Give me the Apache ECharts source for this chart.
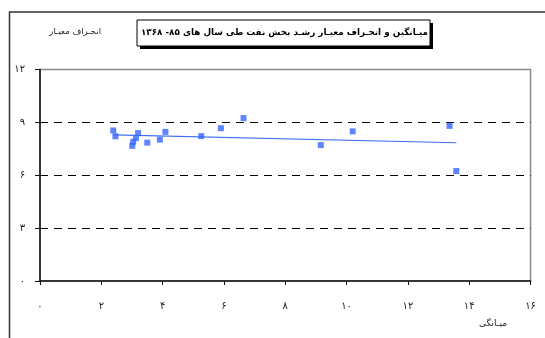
<!DOCTYPE html>
<html>
<head>
<meta charset="utf-8">
<script src="https://cdn.jsdelivr.net/npm/echarts@6/dist/echarts.min.js"></script>
<style>
  html, body { margin: 0; padding: 0; background: #fff; }
  #chart { width: 545px; height: 338px; }
</style>
</head>
<body>
<div id="chart"></div>
<script>
// Mean growth (x) against standard deviation (y) of oil-sector growth
const meanValues = [2.39, 2.46, 3.20, 3.13, 3.04, 3.01, 3.50, 3.91, 4.09, 5.26, 5.90, 6.64, 9.16, 10.20, 13.36, 13.58];
const stdValues  = [8.54, 8.21, 8.39, 8.11, 7.90, 7.67, 7.85, 8.02, 8.46, 8.22, 8.67, 9.24, 7.71, 8.49, 8.80, 6.24];

const xTickLabels = ['۰', '۲', '۴', '۶', '۸', '۱۰', '۱۲', '۱۴', '۱۶'];
const yTickLabels = ['۰', '۳', '۶', '۹', '۱۲'];

const chartTitle = 'میـانگین و انحـراف معیـار رشـد بخش نفت طی سال های ۸۵- ۱۳۶۸';
const xAxisTitle = 'میـانگی';
const yAxisTitle = 'انحـراف معیـار';

// Least-squares trend line over the points
function trendLine(xs, ys) {
  const n = xs.length;
  const mx = xs.reduce((a, b) => a + b, 0) / n;
  const my = ys.reduce((a, b) => a + b, 0) / n;
  let sxy = 0, sxx = 0;
  for (let i = 0; i < n; i++) {
    sxy += (xs[i] - mx) * (ys[i] - my);
    sxx += (xs[i] - mx) * (xs[i] - mx);
  }
  const slope = sxy / sxx;
  const x0 = Math.min(...xs), x1 = Math.max(...xs);
  return [[x0, my + slope * (x0 - mx)], [x1, my + slope * (x1 - mx)]];
}

const points = meanValues.map((x, i) => [x, stdValues[i]]);
const FONT = '"DejaVu Sans", sans-serif';

const chart = echarts.init(document.getElementById('chart'), null, { renderer: 'canvas' });
chart.setOption({
  backgroundColor: '#fff',
  animation: false,
  grid: {
    left: 40, right: 14.5, top: 69.5, bottom: 57,
    show: true, borderColor: '#8a8a8a', borderWidth: 1.5, backgroundColor: '#fff'
  },
  xAxis: {
    type: 'value', min: 0, max: 16, interval: 2,
    axisLine: { show: true, onZero: false, lineStyle: { color: '#111', width: 1.5 } },
    axisTick: { show: true, inside: false, length: 4, lineStyle: { color: '#111', width: 1 } },
    axisLabel: {
      margin: 20, fontSize: 10, color: '#222', fontFamily: FONT,
      formatter: v => xTickLabels[Math.round(v / 2)]
    },
    splitLine: { show: false }
  },
  yAxis: {
    type: 'value', min: 0, max: 12, interval: 3,
    axisLine: { show: true, onZero: false, lineStyle: { color: '#111', width: 1.5 } },
    axisTick: { show: true, inside: false, length: 5, lineStyle: { color: '#111', width: 1 } },
    axisLabel: {
      margin: 15, fontSize: 10, color: '#222', fontFamily: FONT,
      formatter: v => yTickLabels[Math.round(v / 3)]
    },
    splitLine: {
      show: true, showMinLine: false, showMaxLine: false,
      lineStyle: { color: '#000', width: 1, type: [8, 6] }
    }
  },
  series: [
    {
      type: 'line',
      data: trendLine(meanValues, stdValues),
      showSymbol: false,
      symbol: 'none',
      lineStyle: { color: '#3f6ff5', width: 1.2 },
      z: 2
    },
    {
      type: 'scatter',
      data: points,
      symbol: 'rect',
      symbolSize: 6,
      itemStyle: { color: '#3366ff' },
      z: 3
    }
  ],
  graphic: [
    // outer chart-area frame (left and top edges)
    {
      type: 'polyline',
      shape: { points: [[9.5, 338], [9.5, 12], [545, 12]] },
      style: { stroke: '#333', lineWidth: 1.5, fill: null },
      silent: true
    },
    // title box with drop shadow
    {
      type: 'rect',
      shape: { x: 140, y: 23, width: 293, height: 26 },
      style: { fill: '#000' },
      silent: true
    },
    {
      type: 'rect',
      shape: { x: 137, y: 20, width: 293, height: 26 },
      style: { fill: '#fff', stroke: '#000', lineWidth: 1 },
      silent: true
    },
    {
      type: 'text',
      x: 428, y: 33,
      style: {
        text: chartTitle, fill: '#000', font: 'bold 8.8px ' + FONT,
        align: 'right', verticalAlign: 'middle'
      },
      silent: true
    },
    {
      type: 'text',
      x: 101, y: 32,
      style: {
        text: yAxisTitle, fill: '#222', font: '8.5px ' + FONT,
        align: 'right', verticalAlign: 'middle'
      },
      silent: true
    },
    {
      type: 'text',
      x: 507, y: 324,
      style: {
        text: xAxisTitle, fill: '#222', font: '9px ' + FONT,
        align: 'right', verticalAlign: 'middle'
      },
      silent: true
    }
  ]
});
</script>
</body>
</html>
